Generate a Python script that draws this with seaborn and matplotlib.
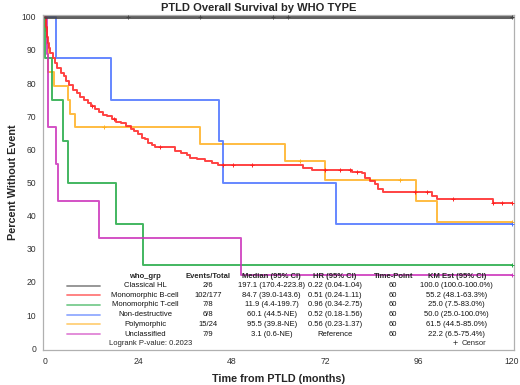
import numpy as np
import pandas as pd
import matplotlib
matplotlib.use("Agg")
import matplotlib.pyplot as plt
import seaborn as sns

# ---------------- data ----------------
groups = ["Classical HL", "Monomorphic B-cell", "Monomorphic T-cell",
          "Non-destructive", "Polymorphic", "Unclassified"]
colors = ["#444444", "#ff2222", "#22aa44", "#4a72ff", "#ffb020", "#cc33bb"]

hl_t = [0, 120]
hl_s = [100, 100]
hl_c = [21.3, 39.9, 58.6, 62.5, 120]

bcell_t = [0, 0.2, 0.4, 0.7, 1.0, 1.4, 2.0, 2.6, 3.2, 4.0, 4.8, 5.4, 6.2, 7.2,
           8.2, 9.0, 10.0, 11.0, 11.8, 12.8, 13.8, 14.8, 16.0, 17.2, 18.2, 19.5,
           20.8, 22.0, 22.8, 24.0, 25.0, 25.8, 26.6, 27.4, 28.3, 33.4, 35.0,
           36.4, 37.3, 39.0, 41.2, 43.0, 44.6, 66.4, 68.6, 78.9, 81.4, 82.3,
           83.6, 84.8, 85.7, 87.0, 99.4, 100.7, 115.3, 120]
bcell_s = [100, 97, 94, 92, 90.5, 89, 87.5, 86, 84.5, 83, 82, 80.5, 79.3, 78,
           77, 75.7, 75, 74, 73.2, 72.3, 71.3, 70.5, 70, 69.2, 68.3, 67.8,
           67, 66.2, 65.5, 64.5, 63.5, 63, 62, 61.3, 60.7, 59.5, 59.0,
           58.2, 57.5, 57.0, 56.5, 56.0, 55.2, 54.5, 53.8, 53.3, 53.0, 51.5,
           50.5, 49.5, 48.0, 47.0, 46.0, 45.0, 43.8, 43.8]
bcell_c = [12.0, 17.7, 29.6, 45.8, 48.4, 53.1, 72.0, 75.9, 78.4, 80.2, 95.1,
           98.1, 104.8, 115.3, 117.4, 120]

tcell_t = [0, 0.1, 1.8, 4.5, 5.9, 18.3, 25.3, 120]
tcell_s = [100, 87.5, 75, 62.5, 50, 37.5, 25, 25]
tcell_c = [120]

nond_t = [0, 2.7, 16.9, 44.7, 45.7, 74.8, 120]
nond_s = [100, 87.5, 75, 62.5, 50, 37.5, 37.5]
nond_c = [120]

poly_t = [0, 0.3, 0.5, 0.7, 0.85, 2.2, 5.8, 6.5, 7.8, 39.9, 61.6, 72.0,
          95.4, 100.7, 120]
poly_s = [100, 95.8, 91.7, 87.5, 83.3, 79.2, 75.0, 70.8, 66.7, 61.5, 56.4,
          50.8, 44.4, 38.1, 38.1]
poly_c = [15.2, 65.6, 91.3, 120]

uncl_t = [0, 0.5, 0.65, 0.8, 2.8, 3.4, 13.9, 50.3, 120]
uncl_s = [100, 88.9, 77.8, 66.7, 55.6, 44.4, 33.3, 22.2, 22.2]
uncl_c = [120]

events_total = ["2/6", "102/177", "7/8", "6/8", "15/24", "7/9"]
median_ci = ["197.1 (170.4-223.8)", "84.7 (39.0-143.6)", "11.9 (4.4-199.7)",
             "60.1 (44.5-NE)", "95.5 (39.8-NE)", "3.1 (0.6-NE)"]
hr_ci = ["0.22 (0.04-1.04)", "0.51 (0.24-1.11)", "0.96 (0.34-2.75)",
         "0.52 (0.18-1.56)", "0.56 (0.23-1.37)", "Reference"]
time_point = ["60", "60", "60", "60", "60", "60"]
km_est = ["100.0 (100.0-100.0%)", "55.2 (48.1-63.3%)", "25.0 (7.5-83.0%)",
          "50.0 (25.0-100.0%)", "61.5 (44.5-85.0%)", "22.2 (6.5-75.4%)"]
logrank = "Logrank P-value: 0.2023"

x_ticks = [0, 24, 48, 72, 96, 120]
y_ticks = [0, 10, 20, 30, 40, 50, 60, 70, 80, 90, 100]

# ---------------- build tables ----------------
curves = {
    "Classical HL": (hl_t, hl_s, hl_c),
    "Monomorphic B-cell": (bcell_t, bcell_s, bcell_c),
    "Monomorphic T-cell": (tcell_t, tcell_s, tcell_c),
    "Non-destructive": (nond_t, nond_s, nond_c),
    "Polymorphic": (poly_t, poly_s, poly_c),
    "Unclassified": (uncl_t, uncl_s, uncl_c),
}
rows, crow = [], []
for g, (t, s, c) in curves.items():
    for ti, si in zip(t, s):
        rows.append((g, ti, si))
    ta = np.array(t)
    for ci in c:
        idx = np.searchsorted(ta, ci, side="right") - 1
        crow.append((g, ci, s[idx]))
df = pd.DataFrame(rows, columns=["group", "time", "surv"])
cdf = pd.DataFrame(crow, columns=["group", "time", "surv"])
pal = dict(zip(groups, colors))

# ---------------- figure ----------------
sns.set_style("white")
plt.rcParams["font.family"] = ["Liberation Sans", "DejaVu Sans"]

W, H = 520, 385
fig = plt.figure(figsize=(W / 100, H / 100), dpi=100)
ax_l, ax_r, ax_t, ax_b = 43.3, 513.5, 15.0, 350.0
ax = fig.add_axes([ax_l / W, 1 - ax_b / H, (ax_r - ax_l) / W, (ax_b - ax_t) / H])

order = ["Polymorphic", "Non-destructive", "Monomorphic T-cell",
         "Unclassified", "Monomorphic B-cell", "Classical HL"]
for g in order:
    sub = df[df.group == g]
    sns.lineplot(data=sub, x="time", y="surv", color=pal[g], estimator=None,
                 sort=False, drawstyle="steps-post",
                 linewidth=2.2 if g == "Classical HL" else 1.4,
                 alpha=0.85, legend=False, ax=ax)
    csub = cdf[cdf.group == g]
    sns.scatterplot(data=csub, x="time", y="surv", color=pal[g], marker="+",
                    s=7, linewidth=0.7, legend=False, ax=ax, zorder=5)

px_per_x = (511.7 - 45.0) / 120
px_per_y = (348.3 - 16.7) / 100
ax.set_xlim(0 - (45.0 - ax_l) / px_per_x, 120 + (ax_r - 511.7) / px_per_x)
ax.set_ylim(0 - (ax_b - 348.3) / px_per_y, 100 + (16.7 - ax_t) / px_per_y)
ax.set_xticks(x_ticks)
ax.set_yticks(y_ticks)
ax.tick_params(axis="both", labelsize=6.2, colors="#333333", length=3,
               width=0.7, direction="out", pad=2)
ax.tick_params(axis="both", color="#888888")
for sp in ax.spines.values():
    sp.set_color("#b0b0b0")
    sp.set_linewidth(0.9)
ax.set_xlabel("Time from PTLD (months)", fontsize=7.8, fontweight="bold",
              labelpad=6)
ax.set_ylabel("Percent Without Event", fontsize=7.8, fontweight="bold",
              labelpad=3)
fig.text(259 / W, 1 - 8 / H, "PTLD Overall Survival by WHO TYPE",
         ha="center", va="center", fontsize=8, fontweight="bold")

# ---------------- legend table ----------------
def fx(x):
    return x / W

def fy(y):
    return 1 - y / H

fs = 5.5
col_x = [145, 208.3, 271.7, 335, 393.3, 456.7]
headers = ["who_grp", "Events/Total", "Median (95% CI)", "HR (95% CI)",
           "Time-Point", "KM Est (95% CI)"]
for cx, h in zip(col_x, headers):
    fig.text(fx(cx), fy(276.7), h, ha="center", va="center", fontsize=fs,
             fontweight="bold")
row_y = [285.7, 295.3, 305.0, 314.7, 324.3, 334.0]
for i, g in enumerate(groups):
    y = row_y[i]
    vals = [g, events_total[i], median_ci[i], hr_ci[i], time_point[i], km_est[i]]
    for cx, v in zip(col_x, vals):
        fig.text(fx(cx), fy(y), v, ha="center", va="center", fontsize=fs,
                 color="#111111")
    fig.add_artist(plt.Line2D([fx(66.7), fx(100)], [fy(y), fy(y)],
                              color=colors[i], alpha=0.6, linewidth=1.3))
fig.text(fx(109.3), fy(343.5), logrank, ha="left", va="center", fontsize=fs)
fig.text(fx(455), fy(343.5), "+", ha="center", va="center", fontsize=6.5)
fig.text(fx(462), fy(343.5), "Censor", ha="left", va="center", fontsize=fs)

fig.savefig("out.png", dpi=100)
